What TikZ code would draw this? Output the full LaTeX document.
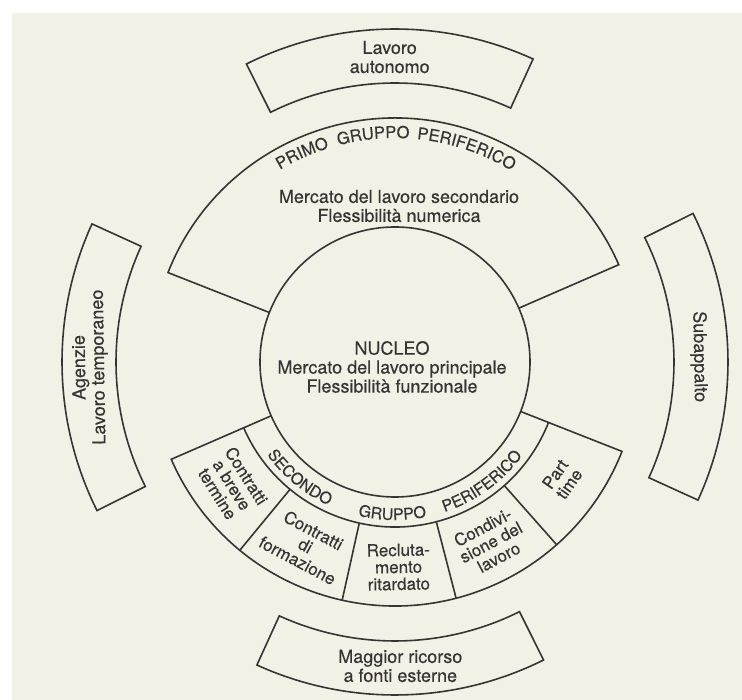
\documentclass[tikz,border=0pt]{standalone}
\usepackage{fontspec}
\setmainfont{TeX Gyre Heros}[FakeBold=0.35]
\usetikzlibrary{decorations.text}
\definecolor{ink}{RGB}{55,53,51}
\definecolor{paper}{RGB}{242,241,229}
\newcommand\bigfont{\fontsize{18}{19}\selectfont}
\newcommand\boxfont{\fontsize{17}{17}\selectfont}
\newcommand\ringfont{\fontsize{16.5}{16.5}\selectfont}
\newcommand\ringfontb{\fontsize{16}{16}\selectfont}
\begin{document}
\begin{tikzpicture}[x=1pt,y=1pt,
  ln/.style={draw=ink, line width=1.6pt},
  lbl/.style={align=center, font=\bigfont, text=ink, inner sep=0pt},
  blbl/.style={align=center, font=\boxfont, text=ink, inner sep=0pt},
  ringtext/.style={decorate, decoration={text along path, text={|\ringfont|#1}, text align=center, text color=ink}},
  ringtextb/.style={decorate, decoration={text along path, text={|\ringfontb|#1}, text align=center, text color=ink}}
]
\useasboundingbox (-395,-338) rectangle (347,362);
\fill[white] (-395,-338) rectangle (347,362);
\fill[paper] (-383,-338) rectangle (347,349);
% nucleus
\node[circle, ln, minimum size=270pt, inner sep=0pt] (nucleo) at (0,0) {};
% primo gruppo periferico
\draw[ln] (158.5:135) -- (158.5:244) arc[start angle=158.5, end angle=23.5, radius=244] -- (23.5:135);
% secondo gruppo periferico
\draw[ln] (203.5:135) -- (203.5:244) arc[start angle=203.5, end angle=338.5, radius=244] -- (338.5:135);
\draw[ln] (203.5:165) arc[start angle=203.5, end angle=338.5, radius=165];
\foreach \a in {230.5,257.5,284.5,311.5} \draw[ln] (\a:165) -- (\a:244);
% outer boxes
\foreach \c in {1,91,181,271}
  \draw[ln] ({\c-25.5}:279) arc[start angle={\c-25.5}, end angle={\c+25.5}, radius=279]
    -- ({\c+25.5}:333) arc[start angle={\c+25.5}, end angle={\c-25.5}, radius=333] -- cycle;
% ring texts
\path[ringtext=PRIMO] (134:224) arc[start angle=134, end angle=94, radius=224];
\path[ringtext=GRUPPO] (115.5:224) arc[start angle=115.5, end angle=75.5, radius=224];
\path[ringtext=PERIFERICO] (96.5:224) arc[start angle=96.5, end angle=46.5, radius=224];
\path[ringtextb=SECONDO] (210.5:158) arc[start angle=210.5, end angle=250.5, radius=158];
\path[ringtextb=GRUPPO] (249:158) arc[start angle=249, end angle=289, radius=158];
\path[ringtextb=PERIFERICO] (281:158) arc[start angle=281, end angle=331, radius=158];
% labels
\node[lbl] (sec) at (4,156) {Mercato del lavoro secondario\\Flessibilità numerica};
\node[lbl] (nuc) at (-3,-5) {NUCLEO\\Mercato del lavoro principale\\Flessibilità funzionale};
\node[lbl] (auto) at (91:305) {Lavoro\\autonomo};
\node[lbl, rotate=91] (agen) at (181:305) {Agenzie\\Lavoro temporaneo};
\node[lbl, rotate=-89] (subap) at (1:304) {Subappalto};
\node[lbl] (magg) at (271:304) {Maggior ricorso\\a fonti esterne};
\node[blbl, rotate=-58] (b1) at (217:204) {Contratti\\a breve\\termine};
\node[blbl, rotate=-28] (b2) at (244:204) {Contratti\\di\\formazione};
\node[blbl, rotate=1] (b3) at (271:205) {Recluta-\\mento\\ritardato};
\node[blbl, rotate=28] (b4) at (298:204) {Condivi-\\sione del\\lavoro};
\node[blbl, rotate=55] (b5) at (325:204) {Part\\time};
\end{tikzpicture}
\end{document}
